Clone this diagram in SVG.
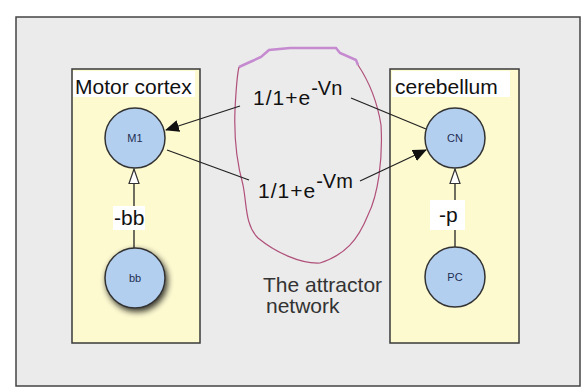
<svg xmlns="http://www.w3.org/2000/svg" width="585" height="390" viewBox="0 0 585 390">
<defs>
<style>
.panel{fill:#fdfad0;stroke:#3a3a3a;stroke-width:1.5}
.node{fill:#b3cff0;stroke:#333;stroke-width:1.5}
.ntext{font-family:"Liberation Sans",Arial,sans-serif;font-size:11px;fill:#1e2e50;text-anchor:middle}
.lbl{font-family:"Liberation Sans",Arial,sans-serif;font-size:21px;fill:#111}
.sup{font-size:20px}
.edge{stroke:#222;stroke-width:1.3;fill:none}
.wbg{fill:#fff}
</style>
<marker id="filled" markerWidth="14" markerHeight="12" refX="13" refY="6" orient="auto" markerUnits="userSpaceOnUse">
<path d="M0,0 L14,6 L0,12 Z" fill="#111"/>
</marker>
<marker id="hollow" markerWidth="16" markerHeight="12" refX="15" refY="6" orient="auto" markerUnits="userSpaceOnUse">
<path d="M0.5,1 L15,6 L0.5,11 Z" fill="#fff" stroke="#333" stroke-width="1.2"/>
</marker>
<filter id="shadow" x="-40%" y="-40%" width="180%" height="180%">
<feGaussianBlur in="SourceAlpha" stdDeviation="3"/>
<feOffset dx="2" dy="3"/>
<feComponentTransfer><feFuncA type="linear" slope="0.8"/></feComponentTransfer>
<feMerge><feMergeNode/><feMergeNode in="SourceGraphic"/></feMerge>
</filter>
</defs>
<rect width="585" height="390" fill="#fff"/>
<rect x="16" y="17" width="564" height="369" fill="#ebebeb" stroke="#444" stroke-width="1.5"/>

<g id="motor-cortex">
<rect class="panel" x="72" y="69" width="128" height="274"/>
<rect class="wbg" x="73" y="71" width="122" height="26"/>
<text class="lbl" x="75" y="94">Motor cortex</text>
</g>
<g id="cerebellum">
<rect class="panel" x="390" y="69" width="129" height="274"/>
<rect class="wbg" x="392" y="71" width="118" height="26"/>
<text class="lbl" x="395" y="94">cerebellum</text>
</g>

<g id="attractor">
<path d="M239,67 L250,62 L261,57 L269,50 L290,48 L336,48 L340,53 L356,60 L358,65" fill="none" stroke="#c58ad0" stroke-width="2.5"/>
<path d="M358,65 C368,80 377,100 381,125 C383,160 378,195 368,215 C358,240 345,255 320,263 C300,264 275,252 258,238 C245,225 247,205 243,185 C236,160 234,135 235,110 C236,90 237,75 239,67" fill="none" stroke="#b0507a" stroke-width="1.2"/>
<text class="lbl" x="263" y="292" style="fill:#333">The attractor</text>
<text class="lbl" x="266" y="313" style="fill:#333">network</text>
</g>

<g id="connectors">
<line class="edge" x1="240" y1="106" x2="166" y2="130" marker-end="url(#filled)"/>
<line class="edge" x1="351" y1="98" x2="426" y2="129"/>
<line class="edge" x1="167" y1="150" x2="249" y2="180"/>
<line class="edge" x1="360" y1="181" x2="426" y2="150" marker-end="url(#filled)"/>
<line class="edge" x1="134" y1="248" x2="134" y2="169" marker-end="url(#hollow)"/>
<line class="edge" x1="455" y1="247" x2="455" y2="169" marker-end="url(#hollow)"/>
<rect class="wbg" x="113" y="206" width="32" height="24"/>
<text class="lbl" x="114" y="225">-bb</text>
<rect class="wbg" x="430" y="200" width="35" height="30"/>
<text class="lbl" x="439" y="222">-p</text>
<text class="lbl" x="253" y="105" letter-spacing="1">1/1+e<tspan class="sup" dy="-10" letter-spacing="0">-Vn</tspan></text>
<text class="lbl" x="258" y="198" letter-spacing="1">1/1+e<tspan class="sup" dy="-10" letter-spacing="0">-Vm</tspan></text>
</g>

<g id="M1"><circle class="node" cx="135" cy="138" r="30"/><text class="ntext" x="135" y="142">M1</text></g>
<g id="bb"><circle class="node" cx="135" cy="278" r="30" filter="url(#shadow)"/><text class="ntext" x="135" y="282">bb</text></g>
<g id="CN"><circle class="node" cx="455" cy="138" r="30"/><text class="ntext" x="455" y="142">CN</text></g>
<g id="PC"><circle class="node" cx="455" cy="277" r="30"/><text class="ntext" x="455" y="281">PC</text></g>
</svg>
